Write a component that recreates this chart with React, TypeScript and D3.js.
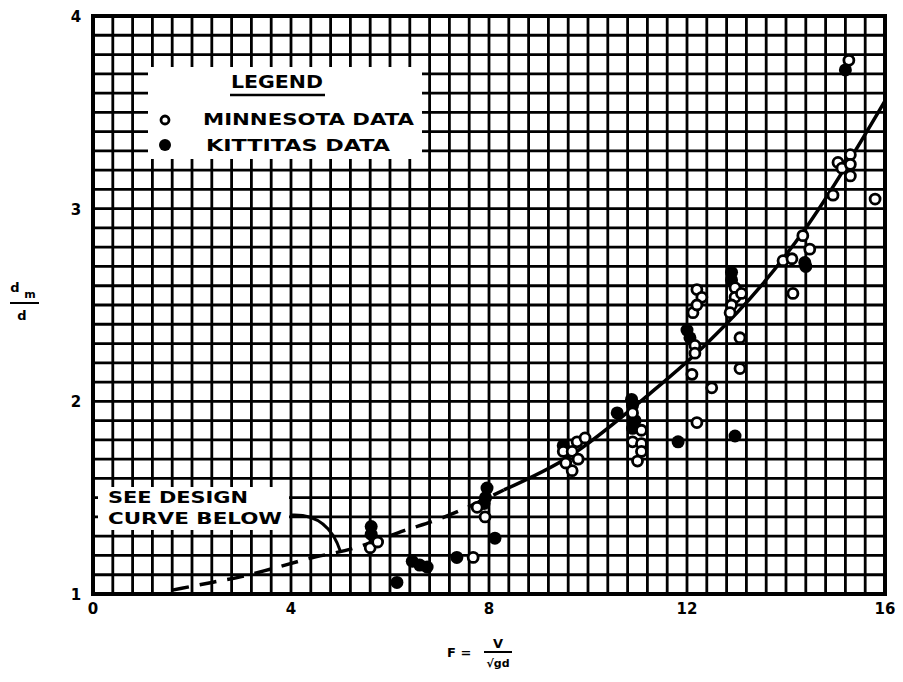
import React from "react";
import * as d3 from "d3";

const xTicks = [0, 4, 8, 12, 16];
const yTicks = [1, 2, 3, 4];

const minnesotaX = [5.6, 5.75, 7.68, 7.76, 7.92, 9.5, 9.68, 9.78, 9.94, 9.8, 9.68, 9.55, 10.9, 11.08, 10.9, 11.08, 11.08, 11.0, 12.2, 12.3, 12.12, 12.2, 12.16, 12.16, 12.1, 12.2, 12.5, 12.97, 12.97, 12.9, 12.87, 13.1, 13.07, 13.07, 14.14, 13.94, 14.12, 14.34, 14.48, 14.95, 15.05, 15.13, 15.3, 15.3, 15.3, 15.8, 15.27];
const minnesotaY = [1.24, 1.27, 1.19, 1.45, 1.40, 1.74, 1.74, 1.79, 1.81, 1.70, 1.64, 1.68, 1.94, 1.85, 1.79, 1.78, 1.74, 1.69, 2.58, 2.54, 2.46, 2.50, 2.29, 2.25, 2.14, 1.89, 2.07, 2.59, 2.54, 2.50, 2.46, 2.56, 2.33, 2.17, 2.56, 2.73, 2.74, 2.86, 2.79, 3.07, 3.24, 3.21, 3.28, 3.23, 3.17, 3.05, 3.77];

const kittitasX = [5.62, 5.62, 6.14, 6.45, 6.6, 6.75, 7.35, 7.96, 7.93, 7.9, 8.12, 9.5, 10.59, 10.88, 10.9, 10.95, 10.9, 11.82, 12.0, 12.06, 12.9, 12.9, 12.97, 14.38, 14.4, 15.2];
const kittitasY = [1.35, 1.31, 1.06, 1.17, 1.15, 1.14, 1.19, 1.55, 1.50, 1.47, 1.29, 1.77, 1.94, 2.01, 1.98, 1.90, 1.86, 1.79, 2.37, 2.33, 2.67, 2.63, 1.82, 2.72, 2.70, 3.72];

const dashedCurveX = [1.6, 2.4, 3.0, 3.6, 4.3, 5.3, 6.3, 7.0, 8.3];
const dashedCurveY = [1.02, 1.06, 1.09, 1.13, 1.18, 1.24, 1.33, 1.39, 1.54];
const solidCurveX = [8.3, 9.6, 11.25, 12.4, 13.5, 14.4, 16];
const solidCurveY = [1.54, 1.71, 2.04, 2.30, 2.60, 2.90, 3.56];

const W = 903;
const H = 682;
const FONT = "'DejaVu Sans', sans-serif";

export default function App() {
  const x = d3.scaleLinear().domain([0, 16]).range([93, 885]);
  const y = d3.scaleLinear().domain([1, 4]).range([594, 16]);

  const xGrid = d3.range(0, 41).map((i) => i * 0.4);
  const yGrid = d3.range(0, 31).map((i) => 1 + i * 0.1);

  const line = d3
    .line<[number, number]>()
    .x((d) => x(d[0]))
    .y((d) => y(d[1]))
    .curve(d3.curveMonotoneX);

  const dashedPts = dashedCurveX.map((v, i) => [v, dashedCurveY[i]] as [number, number]);
  const solidPts = solidCurveX.map((v, i) => [v, solidCurveY[i]] as [number, number]);

  const minn = minnesotaX.map((v, i) => [v, minnesotaY[i]]);
  const kitt = kittitasX.map((v, i) => [v, kittitasY[i]]);

  const lx0 = x(4.0), ly0 = y(1.41);
  const lx1 = x(5.0), ly1 = y(1.22);
  const leader = `M${lx0},${ly0} Q${x(4.75)},${y(1.42)} ${lx1},${ly1}`;

  return (
    <svg
      width={W}
      height={H}
      style={{ position: "absolute", left: 0, top: 0, background: "#fff" }}
      fontFamily={FONT}
    >
      <rect x={0} y={0} width={W} height={H} fill="#fff" />
      <g stroke="#000" strokeWidth={2.8}>
        {xGrid.map((v, i) => (
          <line key={"gx" + i} x1={x(v)} x2={x(v)} y1={y(1)} y2={y(4)} />
        ))}
        {yGrid.map((v, i) => (
          <line key={"gy" + i} x1={x(0)} x2={x(16)} y1={y(v)} y2={y(v)} />
        ))}
      </g>
      <rect x={x(0)} y={y(4)} width={x(16) - x(0)} height={y(1) - y(4)} fill="none" stroke="#000" strokeWidth={4} />

      <rect x={148} y={67} width={274} height={92} fill="#fff" />
      <text x={277} y={88} fontSize={17} fontWeight="bold" textAnchor="middle" textLength={92} lengthAdjust="spacingAndGlyphs">LEGEND</text>
      <line x1={230} x2={325} y1={95} y2={95} stroke="#000" strokeWidth={2.5} />
      <circle cx={165} cy={120} r={4} fill="#fff" stroke="#000" strokeWidth={2.8} />
      <text x={203} y={125} fontSize={16} fontWeight="bold" textLength={211} lengthAdjust="spacingAndGlyphs">MINNESOTA DATA</text>
      <circle cx={165} cy={145} r={6} fill="#000" />
      <text x={206} y={151} fontSize={16} fontWeight="bold" textLength={184} lengthAdjust="spacingAndGlyphs">KITTITAS DATA</text>

      <rect x={98} y={487} width={191} height={43} fill="#fff" />
      <text x={108} y={503} fontSize={16} fontWeight="bold" textLength={140} lengthAdjust="spacingAndGlyphs">SEE DESIGN</text>
      <text x={108} y={524} fontSize={16} fontWeight="bold" textLength={174} lengthAdjust="spacingAndGlyphs">CURVE BELOW</text>
      <path d={leader} fill="none" stroke="#000" strokeWidth={3} />

      <path d={line(dashedPts) || ""} fill="none" stroke="#000" strokeWidth={3.5} strokeDasharray="17,11" />
      <path d={line(solidPts) || ""} fill="none" stroke="#000" strokeWidth={3.5} />

      {kitt.map((d, i) => (
        <circle key={"k" + i} cx={x(d[0])} cy={y(d[1])} r={6.5} fill="#000" />
      ))}
      {minn.map((d, i) => (
        <circle key={"m" + i} cx={x(d[0])} cy={y(d[1])} r={5} fill="#fff" stroke="#000" strokeWidth={2.8} />
      ))}

      {xTicks.map((t) => (
        <text key={"xt" + t} x={x(t)} y={y(1) + 20} fontSize={15} fontWeight="bold" textAnchor="middle">
          {t}
        </text>
      ))}
      {yTicks.map((t) => (
        <text key={"yt" + t} x={76} y={y(t) + 6} fontSize={15} fontWeight="bold" textAnchor="middle">
          {t}
        </text>
      ))}

      <text x={15} y={292} fontSize={13} fontWeight="bold" textAnchor="middle">d</text>
      <text x={30} y={298} fontSize={11} fontWeight="bold" textAnchor="middle">m</text>
      <line x1={10} x2={39} y1={303} y2={303} stroke="#000" strokeWidth={2} />
      <text x={22} y={320} fontSize={13} fontWeight="bold" textAnchor="middle">d</text>

      <text x={447} y={657} fontSize={13} fontWeight="bold">F  =</text>
      <text x={498} y={648} fontSize={13} fontWeight="bold" textAnchor="middle">V</text>
      <line x1={484} x2={512} y1={652} y2={652} stroke="#000" strokeWidth={2} />
      <text x={498} y={667} fontSize={11} fontWeight="bold" textAnchor="middle">√gd</text>
    </svg>
  );
}
